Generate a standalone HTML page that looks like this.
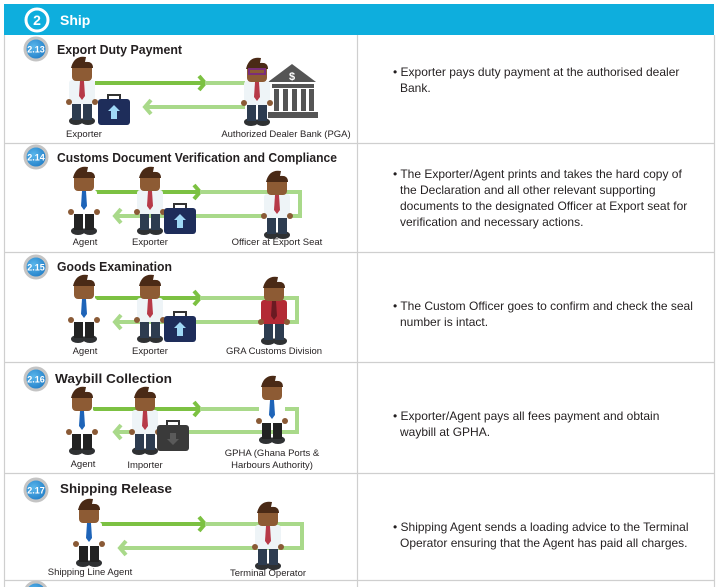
<!DOCTYPE html>
<html><head><meta charset="utf-8">
<style>
html,body{margin:0;padding:0;background:#fff;}
body{width:721px;height:587px;overflow:hidden;position:relative;font-family:"Liberation Sans",sans-serif;}
svg{position:absolute;left:0;top:0;}
.t{font-family:"Liberation Sans",sans-serif;}
</style></head>
<body>
<svg id="s" width="721" height="587" viewBox="0 0 721 587">
  <rect x="4" y="4" width="710" height="31" fill="#0eaedd"/>
  <circle cx="37" cy="20" r="11" fill="none" stroke="#fff" stroke-width="3"/>
  <text x="37" y="25" text-anchor="middle" fill="#fff" font-size="14" font-weight="bold" class="t">2</text>
  <text x="60" y="25" fill="#fff" font-size="14" font-weight="bold" class="t">Ship</text>
  <g id="grid" stroke="#cfcfcf" stroke-width="1.2" fill="none">
    <line x1="4.5" y1="35" x2="4.5" y2="587"/>
    <line x1="714.5" y1="35" x2="714.5" y2="587"/>
    <line x1="357.5" y1="35" x2="357.5" y2="587"/>
    <line x1="4" y1="143.5" x2="715" y2="143.5"/>
    <line x1="4" y1="252.5" x2="715" y2="252.5"/>
    <line x1="4" y1="362.5" x2="715" y2="362.5"/>
    <line x1="4" y1="473.5" x2="715" y2="473.5"/>
    <line x1="4" y1="580.5" x2="715" y2="580.5"/>
  </g>
  <defs>
    <radialGradient id="bd" cx="0.4" cy="0.4" r="0.7"><stop offset="0" stop-color="#5ab7ec"/><stop offset="1" stop-color="#1a76c2"/></radialGradient>
  </defs>
</svg>
<script>
var NS="http://www.w3.org/2000/svg";
var s=document.getElementById('s');
function el(tag,attrs,parent){var e=document.createElementNS(NS,tag);for(var k in attrs)e.setAttribute(k,attrs[k]);(parent||s).appendChild(e);return e;}
function txt(x,y,str,size,weight,anchor,parent){var e=el('text',{x:x,y:y,'font-size':size,'font-weight':weight||'normal','text-anchor':anchor||'start',fill:'#231f20','class':'t'},parent);e.textContent=str;return e;}

function person(cx,y,tie,shirt,pants,name,glasses){
  var g=el('g',{});
  
  
  el('ellipse',{cx:cx-6,cy:y+63,rx:7,ry:4,fill:'#2f3133'},g);
  el('ellipse',{cx:cx+6,cy:y+63,rx:7,ry:4,fill:'#2f3133'},g);
  el('rect',{x:cx-10,y:y+42,width:9,height:20,fill:pants},g);
  el('rect',{x:cx+1,y:y+42,width:9,height:20,fill:pants},g);
  el('rect',{x:cx-13,y:y+22,width:26,height:24,rx:3,fill:shirt},g);
  el('circle',{cx:cx-13,cy:y+44,r:3,fill:'#8a5a36'},g);
  el('circle',{cx:cx+13,cy:y+44,r:3,fill:'#8a5a36'},g);
  el('polygon',{points:(cx-2)+','+(y+23)+' '+(cx+2)+','+(y+23)+' '+(cx+3)+','+(y+38)+' '+cx+','+(y+42)+' '+(cx-3)+','+(y+38),fill:tie},g);
  el('rect',{x:cx-10,y:y+4,width:20,height:19,rx:4,fill:'#8d5b34'},g);
  el('path',{d:'M'+(cx-11)+' '+(y+10)+' Q'+(cx-8)+' '+(y-3)+' '+(cx+4)+' '+(y-1)+' L'+(cx+3)+' '+(y+4)+' Q'+(cx+11)+' '+(y+3)+' '+(cx+11)+' '+(y+10)+' Z',fill:'#4a2a16'},g);
  if(glasses){el('rect',{x:cx-8,y:y+10,width:16,height:5,fill:'none',stroke:'#7b2d7a','stroke-width':2},g);}
  return g;
}
function arrows(x1,x2,xm,y1,y2,loop,name){
  var g=el('g',{fill:'none','stroke-width':4});
  
  
  el('line',{x1:x1,y1:y1,x2:xm,y2:y1,stroke:'#7cc142'},g);
  el('polyline',{points:(xm-6)+','+(y1-7)+' '+xm+','+y1+' '+(xm-6)+','+(y1+7),stroke:'#7cc142'},g);
  if(loop){
    el('polyline',{points:xm+','+y1+' '+x2+','+y1+' '+x2+','+y2+' '+(loop)+','+y2,stroke:'#a9d98a'},g);
  } else {
    el('line',{x1:xm,y1:y1,x2:x2,y2:y1,stroke:'#a9d98a'},g);
  }
  return g;
}
function back(xa,xb,y,name){
  var g=el('g',{fill:'none','stroke-width':4,stroke:'#a9d98a'});
  
  
  el('line',{x1:xa,y1:y,x2:xb,y2:y},g);
  el('polyline',{points:(xb+6)+','+(y-7)+' '+xb+','+y+' '+(xb+6)+','+(y+7)},g);
}
function briefcase(x,y,dark,name){
  var g=el('g',{});
  
  
  el('rect',{x:x+10,y:y-4,width:12,height:6,fill:'none',stroke:'#333','stroke-width':2},g);
  el('rect',{x:x,y:y,width:32,height:26,rx:3,fill:dark?'#3a3a3a':'#1e2d5a'},g);
  var c=dark?'#5a5a5a':'#9fd8f5';
  if(dark) el('polygon',{points:(x+13)+','+(y+8)+' '+(x+19)+','+(y+8)+' '+(x+19)+','+(y+14)+' '+(x+22)+','+(y+14)+' '+(x+16)+','+(y+20)+' '+(x+10)+','+(y+14)+' '+(x+13)+','+(y+14),fill:c},g);
  else el('polygon',{points:(x+16)+','+(y+6)+' '+(x+22)+','+(y+12)+' '+(x+19)+','+(y+12)+' '+(x+19)+','+(y+20)+' '+(x+13)+','+(y+20)+' '+(x+13)+','+(y+12)+' '+(x+10)+','+(y+12),fill:c},g);
}
function badge(y,label){
  var g=el('g',{});
  
  
  el('circle',{cx:36,cy:y,r:11,fill:'url(#bd)',stroke:'#c4c4c4','stroke-width':3},g);
  var t=el('text',{x:36,y:y+3.5,'text-anchor':'middle',fill:'#fff','font-size':9,'font-weight':'bold','class':'t'},g);t.textContent=label;
}
function title(x,y,str,len){var t=txt(x,y,str,13,'bold');if(len){t.setAttribute('textLength',len);t.setAttribute('lengthAdjust','spacingAndGlyphs');}}
function label(x,y,str){var t=txt(x,y,str,9.5,'normal','middle');}
function desc(y,lines){
  var t=el('text',{x:393,y:y,'font-size':12,fill:'#231f20','class':'t'});
  
  
  lines.forEach(function(l,i){var sp=el('tspan',{x:i?400:393,dy:i?16:0},t);sp.textContent=l;});
}
var W='#eef4f7';
var BLUE='#1e64b8',RED='#b73a48';

// Row 1
badge(49,'2.13'); title(57,54,'Export Duty Payment',125);
arrows(95,245,205,83,0,0,'send-arrow');
back(245,145,107,'return-arrow');
person(82,58,RED,W,'#2d3c50','exporter-figure');
briefcase(98,99,false,'briefcase-icon');
var bk=el('g',{fill:'#555'});
el('polygon',{points:'268,82 292,64 316,82'},bk);
el('rect',{x:272,y:84,width:42,height:4},bk);
[274,283,292,301,309].forEach(function(x){el('rect',{x:x,y:89,width:5,height:22},bk);});
el('rect',{x:268,y:112,width:50,height:6},bk);
var d=el('text',{x:292,y:80,'text-anchor':'middle',fill:'#fff','font-size':11,'font-weight':'bold','class':'t'},bk);d.textContent='$';
person(257,59,RED,W,'#2d3c50','bank-officer-figure',true);
label(84,137,'Exporter'); label(286,137,'Authorized Dealer Bank (PGA)');
desc(76,['• Exporter pays duty payment at the authorised dealer','Bank.']);

// Row 2
badge(157,'2.14'); title(57,162,'Customs Document Verification and Compliance',280);
arrows(95,300,200,192,216,115,'send-arrow');
back(160,115,216,'return-arrow');
person(84,168,BLUE,'#ffffff','#222','agent-figure');
person(150,168,RED,W,'#2d3c50','exporter-figure');
briefcase(164,208,false,'briefcase-icon');
person(277,172,RED,W,'#2d3c50','officer-figure');
label(85,245,'Agent'); label(150,245,'Exporter'); label(277,245,'Officer at Export Seat');
desc(178,['• The Exporter/Agent prints and takes the hard copy of','the Declaration and all other relevant supporting','documents to the designated Officer at Export seat for','verification and necessary actions.']);

// Row 3
badge(267,'2.15'); title(57,271,'Goods Examination',115);
arrows(95,297,200,298,322,115,'send-arrow');
back(160,115,322,'return-arrow');
person(84,276,BLUE,'#ffffff','#222','agent-figure');
person(150,276,RED,W,'#2d3c50','exporter-figure');
briefcase(164,316,false,'briefcase-icon');
person(274,278,'#6a1a22','#b32a35','#2d3c50','customs-officer-figure');
label(85,354,'Agent'); label(150,354,'Exporter'); label(274,354,'GRA Customs Division');
desc(310,['• The Custom Officer goes to confirm and check the seal','number is intact.']);

// Row 4
badge(379,'2.16'); title(55,383,'Waybill Collection',117);
arrows(93,297,200,409,432,115,'send-arrow');
back(160,115,432,'return-arrow');
person(82,388,BLUE,'#ffffff','#222','agent-figure');
person(145,388,RED,W,'#2d3c50','importer-figure');
briefcase(157,425,true,'briefcase-icon');
person(272,377,BLUE,'#ffffff','#222','gpha-officer-figure');
label(83,467,'Agent'); label(145,468,'Importer'); label(272,456,'GPHA (Ghana Ports &'); label(272,468,'Harbours Authority)');
desc(420,['• Exporter/Agent pays all fees payment and obtain','waybill at GPHA.']);

// Row 5
badge(490,'2.17'); title(60,493,'Shipping Release',112);
arrows(100,302,205,524,548,120,'send-arrow');
back(165,120,548,'return-arrow');
person(89,500,BLUE,'#ffffff','#222','shipping-agent-figure');
person(268,503,RED,W,'#2d3c50','terminal-operator-figure');
label(90,575,'Shipping Line Agent'); label(268,576,'Terminal Operator');
desc(531,['• Shipping Agent sends a loading advice to the Terminal','Operator ensuring that the Agent has paid all charges.']);

var nb=el('circle',{cx:36,cy:593,r:11,fill:'url(#bd)',stroke:'#c4c4c4','stroke-width':3});


</script>
</body></html>
